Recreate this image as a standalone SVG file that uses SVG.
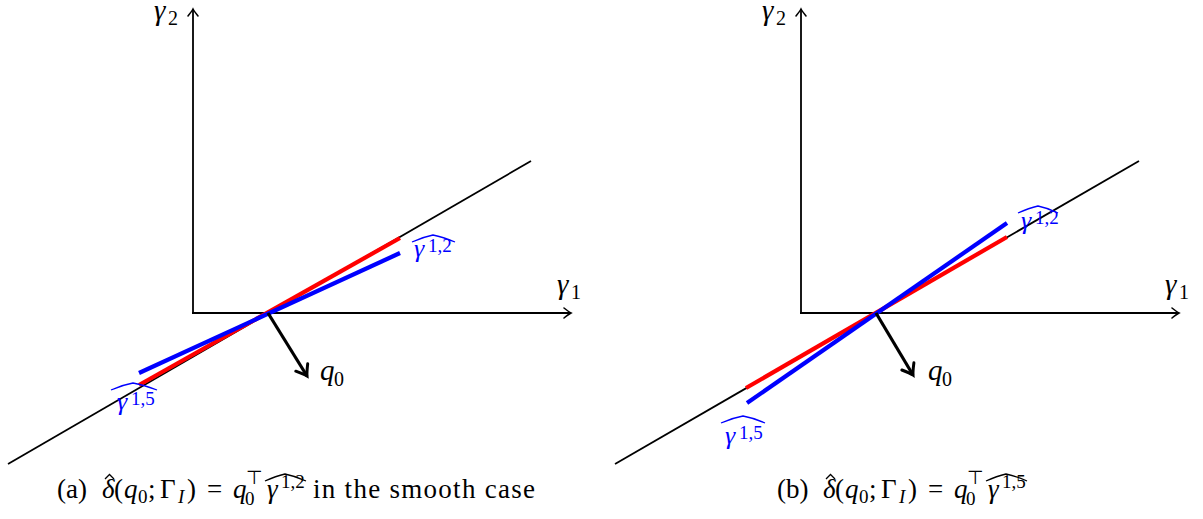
<svg xmlns="http://www.w3.org/2000/svg" width="1203" height="519" viewBox="0 0 1203 519">
<style>
.ax{stroke:#000;stroke-width:1.8;fill:none}
.ln{stroke:#000;stroke-width:1.8;fill:none}
.red{stroke:#f00;stroke-width:4.2;fill:none}
.blue{stroke:#00f;stroke-width:4.2;fill:none}
.q{stroke:#000;stroke-width:3.2;fill:none}
text{font-family:"Liberation Serif","Times New Roman",serif}
.m{font-style:italic;font-size:29px;fill:#000}
.s{font-style:normal;font-size:20px}
.bl{font-style:italic;font-size:26px;fill:#00f}
.bs{font-style:normal;font-size:19px}
.cap{font-size:27px;fill:#000}
.i{font-style:italic}
.cs{font-size:19px}
.hatb{stroke:#00f;stroke-width:1.3;fill:none}
.hatk{stroke:#000;stroke-width:1.3;fill:none}
</style>
<defs>
<marker id="arr" markerUnits="userSpaceOnUse" markerWidth="20" markerHeight="20" viewBox="-10 -10 20 20" refX="0" refY="0" orient="auto">
<path d="M-7,-5 Q-2,-1 0,0 Q-2,1 -7,5" stroke="#000" stroke-width="1.6" fill="none" stroke-linecap="round"/>
</marker>
<marker id="arrq" markerUnits="userSpaceOnUse" markerWidth="30" markerHeight="30" viewBox="-15 -15 30 30" refX="0" refY="0" orient="auto">
<path d="M-10,-7 Q-3,-1.5 0,0 Q-3,1.5 -10,7" stroke="#000" stroke-width="3" fill="none" stroke-linecap="round"/>
</marker>
</defs>
<g id="connectors">
<line class="ax" x1="193" y1="314" x2="193" y2="9" marker-end="url(#arr)"/>
<line class="ax" x1="192" y1="313" x2="571" y2="313" marker-end="url(#arr)"/>
<line class="ln" x1="8" y1="464" x2="531" y2="161"/>
<line class="red" x1="139" y1="385" x2="400" y2="238"/>
<line class="blue" x1="139" y1="373" x2="400" y2="253"/>
<line class="q" x1="268" y1="313" x2="307" y2="376" marker-end="url(#arrq)"/>
<line class="ax" x1="801" y1="314" x2="801" y2="9" marker-end="url(#arr)"/>
<line class="ax" x1="800" y1="313" x2="1179" y2="313" marker-end="url(#arr)"/>
<line class="ln" x1="615" y1="464" x2="1139" y2="161"/>
<line class="red" x1="746" y1="388" x2="1007" y2="237"/>
<line class="blue" x1="747" y1="403" x2="1007" y2="223"/>
<line class="q" x1="876" y1="313" x2="913" y2="375" marker-end="url(#arrq)"/>
</g>
<g id="labels-a">
<text class="m"><tspan x="154" y="20">γ</tspan><tspan class="s" x="168" y="25">2</tspan></text>
<text class="m"><tspan x="557" y="294">γ</tspan><tspan class="s" x="571" y="299">1</tspan></text>
<text class="m"><tspan x="320" y="380">q</tspan><tspan class="s" x="334" y="386">0</tspan></text>
<g id="g12a">
<text class="bl"><tspan x="414" y="257">γ</tspan><tspan class="bs" x="428" y="252">1,2</tspan></text>
<path class="hatb" d="M412,242 Q423,237 433,235 Q443,237 455,242"/>
</g>
<g id="g15a">
<text class="bl"><tspan x="117" y="410">γ</tspan><tspan class="bs" x="131" y="405">1,5</tspan></text>
<path class="hatb" d="M111,390 Q122,385 133,383 Q144,385 157,390"/>
</g>
</g>
<g id="labels-b">
<text class="m"><tspan x="762" y="20">γ</tspan><tspan class="s" x="776" y="25">2</tspan></text>
<text class="m"><tspan x="1165" y="294">γ</tspan><tspan class="s" x="1179" y="299">1</tspan></text>
<text class="m"><tspan x="928" y="380">q</tspan><tspan class="s" x="942" y="386">0</tspan></text>
<g id="g12b">
<text class="bl"><tspan x="1021" y="229">γ</tspan><tspan class="bs" x="1035" y="224">1,2</tspan></text>
<path class="hatb" d="M1018,213 Q1029,208 1038,206 Q1048,208 1058,213"/>
</g>
<g id="g15b">
<text class="bl"><tspan x="725" y="444">γ</tspan><tspan class="bs" x="739" y="439">1,5</tspan></text>
<path class="hatb" d="M721,423 Q732,418 743,416 Q754,418 765,423"/>
</g>
</g>
<g id="caption-a">
<text class="cap"><tspan x="57" y="498">(a)</tspan><tspan class="i" x="102" y="498">δ</tspan><tspan x="114" y="498">(</tspan><tspan class="i" x="124" y="498">q</tspan><tspan class="cs" x="138" y="503">0</tspan><tspan x="148" y="498">;</tspan><tspan x="160" y="498">Γ</tspan><tspan class="i cs" x="178" y="503">I</tspan><tspan x="187" y="498">)</tspan><tspan x="207" y="498">=</tspan><tspan class="i" x="233" y="498">q</tspan><tspan class="cs" x="245" y="505">0</tspan><tspan class="cs" x="246" y="484">⊤</tspan><tspan class="i" x="267" y="498">γ</tspan><tspan class="cs" x="281" y="488">1,2</tspan><tspan x="313" y="498" textLength="222" lengthAdjust="spacing">in the smooth case</tspan></text>
<path class="hatk" d="M105,479 L109.5,474.5 L114,479"/>
<path class="hatk" d="M265,481 Q276,476 285,474 Q295,476 306,481"/>
</g>
<g id="caption-b">
<text class="cap"><tspan x="777" y="498">(b)</tspan><tspan class="i" x="823" y="498">δ</tspan><tspan x="835" y="498">(</tspan><tspan class="i" x="845" y="498">q</tspan><tspan class="cs" x="859" y="503">0</tspan><tspan x="869" y="498">;</tspan><tspan x="881" y="498">Γ</tspan><tspan class="i cs" x="899" y="503">I</tspan><tspan x="908" y="498">)</tspan><tspan x="928" y="498">=</tspan><tspan class="i" x="954" y="498">q</tspan><tspan class="cs" x="966" y="505">0</tspan><tspan class="cs" x="967" y="484">⊤</tspan><tspan class="i" x="988" y="498">γ</tspan><tspan class="cs" x="1002" y="488">1,5</tspan></text>
<path class="hatk" d="M826,479 L830.5,474.5 L835,479"/>
<path class="hatk" d="M986,481 Q997,476 1006,474 Q1016,476 1027,481"/>
</g>
</svg>
